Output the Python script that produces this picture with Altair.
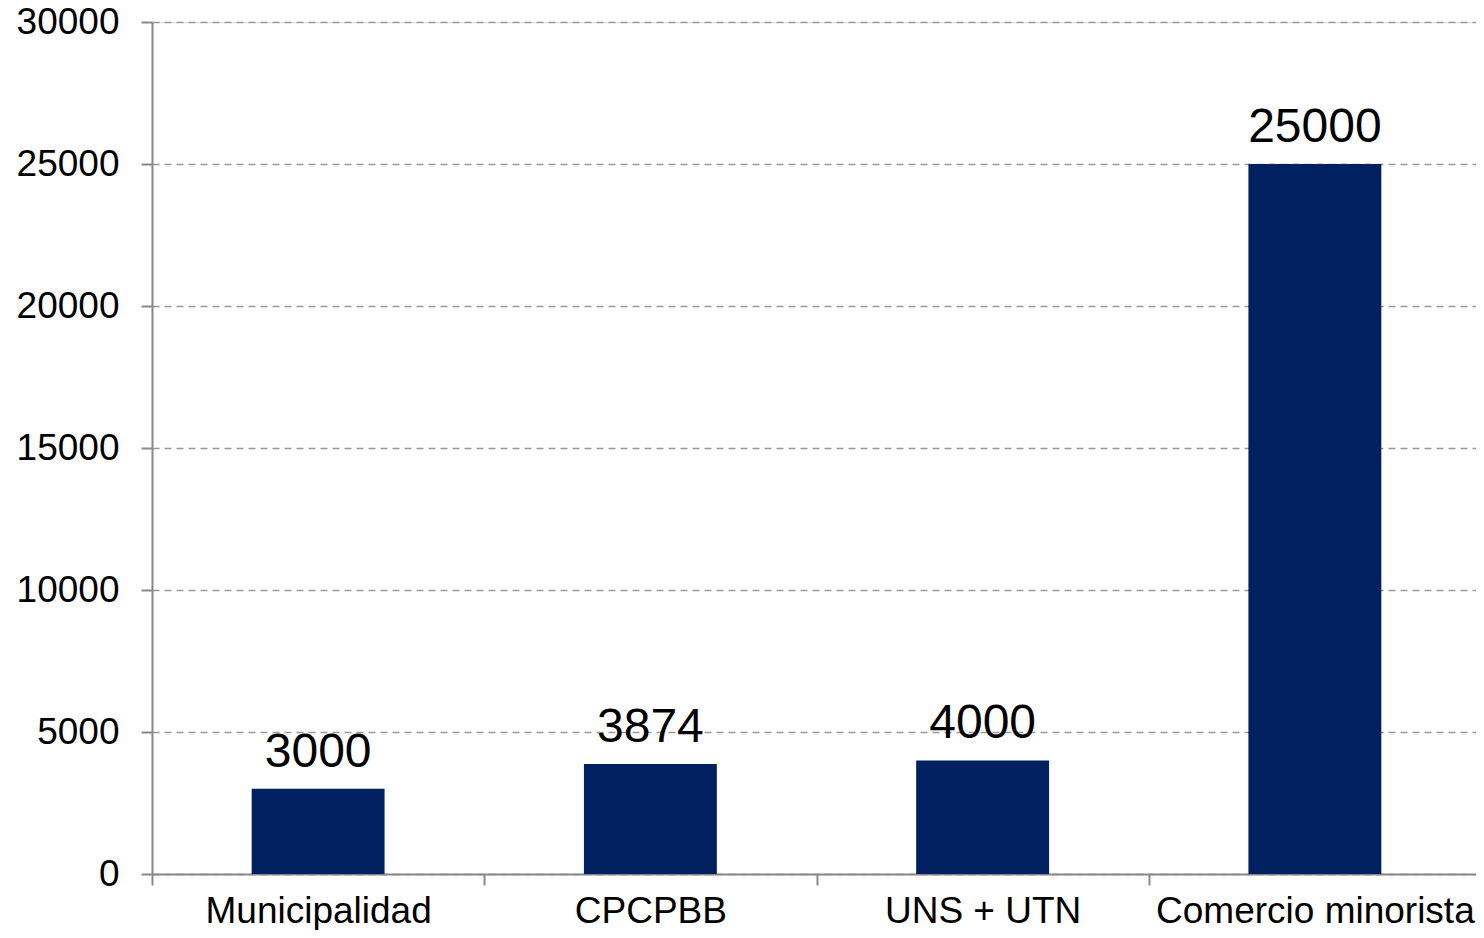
import altair as alt
import pandas as pd

categories = ["Municipalidad", "CPCPBB", "UNS + UTN", "Comercio minorista"]
values = [3000, 3874, 4000, 25000]

df = pd.DataFrame({"cat": categories, "val": values})

FONT = "Liberation Sans"

x = alt.X("cat:N", sort=categories, title=None,
          scale=alt.Scale(paddingInner=0, paddingOuter=0, range=[0, 1329]),
          axis=alt.Axis(labelAngle=0, labelFontSize=37, labelFont=FONT, labelColor="#000000",
                        labelLimit=0, tickBand="extent", tickSize=11, tickColor="#888888",
                        domainColor="#888888", domainWidth=2, tickWidth=2,
                        labelBaseline="alphabetic", labelPadding=37, grid=False))
y = alt.Y("val:Q", title=None,
          scale=alt.Scale(domain=[0, 30000], nice=False),
          axis=alt.Axis(values=[0, 5000, 10000, 15000, 20000, 25000, 30000], format="d",
                        labelFontSize=37, labelFont=FONT, labelColor="#000000",
                        tickSize=11, tickColor="#888888", domainColor="#888888",
                        domainWidth=2, tickWidth=2, labelPadding=22,
                        grid=True, gridColor="#999999", gridDash=[7, 5], gridWidth=1.5))

bars = alt.Chart(df).mark_bar(color="#002060", width=alt.RelativeBandSize(0.4)).encode(x=x, y=y)
labels = alt.Chart(df).mark_text(font=FONT, fontSize=48, baseline="alphabetic", dy=-22,
                                 color="#000000").encode(
    x=alt.X("cat:N", sort=categories), y="val:Q", text=alt.Text("val:Q", format="d"))

chart = (bars + labels).properties(
    width=1324, height=852,
    padding={"left": 144, "top": 14, "right": 0, "bottom": 56},
    autosize=alt.AutoSizeParams(type="none"),
).configure_view(stroke=None).configure(background="white")

chart.save("out.html", embed_options={"renderer": "svg", "actions": False})
